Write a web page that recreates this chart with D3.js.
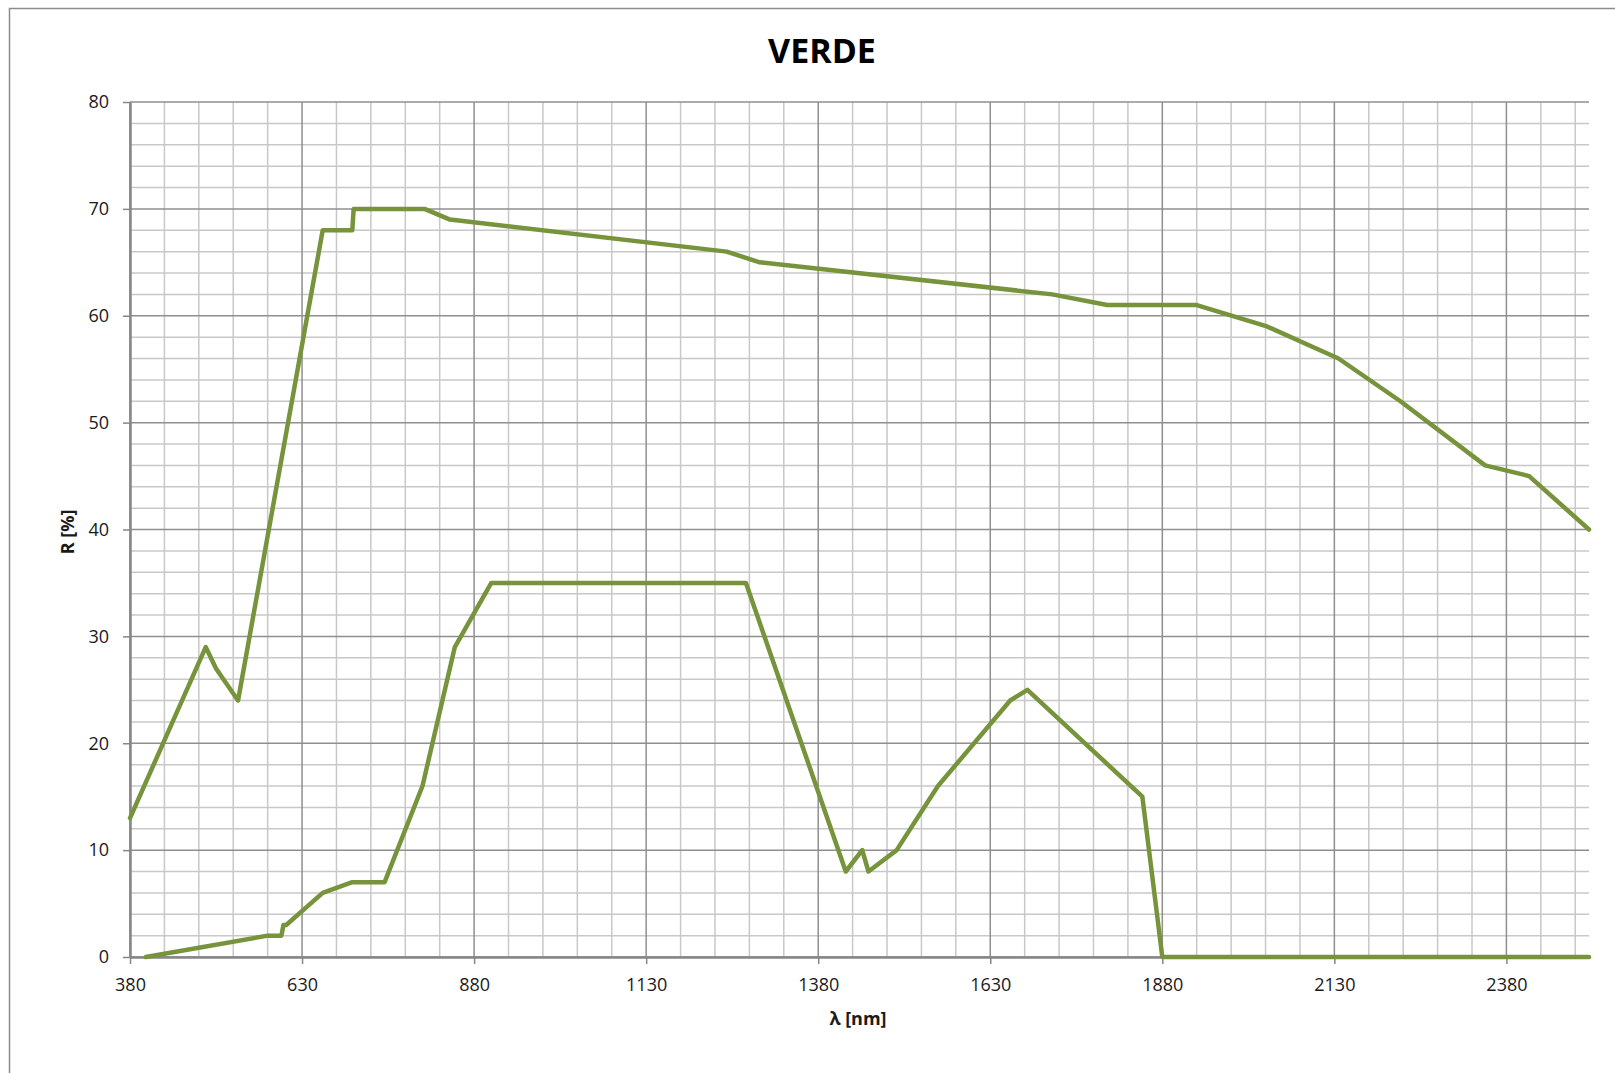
<!DOCTYPE html>
<html>
<head>
<meta charset="utf-8">
<script src="https://cdn.jsdelivr.net/npm/d3@7"></script>
<style>
  body { margin: 0; background: #fff; }
  svg { display: block; font-family: "Open Sans", sans-serif; }
</style>
</head>
<body>
<svg class="chart"></svg>
<script>
"use strict";
// upper curve
var upperNm = [380, 490, 505, 537, 660, 703, 705, 808, 845, 1247, 1295, 1720, 1800, 1930, 2032, 2136, 2226, 2349, 2413, 2500];
var upperR  = [13, 29, 27, 24, 68, 68, 70, 70, 69, 66, 65, 62, 61, 61, 59, 56, 52, 46, 45, 40];
// lower curve
var lowerNm = [403, 580, 600, 603, 607, 660, 703, 750, 805, 852, 905, 1275, 1420, 1444, 1453, 1494, 1554, 1659, 1684, 1851, 1880, 2500];
var lowerR  = [0, 2, 2, 3, 3, 6, 7, 7, 16, 29, 35, 35, 8, 10, 8, 10, 16, 24, 25, 15, 0, 0];
// tick labels
var xTicks = [380, 630, 880, 1130, 1380, 1630, 1880, 2130, 2380];
var yTicks = [0, 10, 20, 30, 40, 50, 60, 70, 80];
var titleText = "VERDE";
var xTitle = "\u03bb [nm]";
var yTitle = "R [%]";

var width = 1615, height = 1073;
var plotLeft = 130, plotRight = 1589, plotTop = 102, plotBottom = 957;
var lineColor = "#77933c";

var svg = d3.select(".chart")
	.attr("width", width)
	.attr("height", height);

// outer chart border (only left/top visible)
svg.append("rect")
	.attr("x", 9.5).attr("y", 8.5)
	.attr("width", width + 20).attr("height", height + 20)
	.attr("fill", "none")
	.attr("stroke", "#8c8c8c")
	.attr("stroke-width", 1.5);

var x = d3.scaleLinear().domain([380, 2500]).range([plotLeft, plotRight]);
var y = d3.scaleLinear().domain([0, 80]).range([plotBottom, plotTop]);

// minor gridlines
var minorX = d3.range(380, 2501, 50).filter(function(d){ return (d - 380) % 250 != 0; });
var minorY = d3.range(0, 81, 2).filter(function(d){ return d % 10 != 0; });
var grid = svg.append("g");
grid.selectAll("line.mx")
	.data(minorX)
	.enter().append("line")
	.attr("x1", function(d){ return x(d); }).attr("x2", function(d){ return x(d); })
	.attr("y1", plotTop).attr("y2", plotBottom)
	.attr("stroke", "#c8c8c8").attr("stroke-width", 1.5);
grid.selectAll("line.my")
	.data(minorY)
	.enter().append("line")
	.attr("y1", function(d){ return y(d); }).attr("y2", function(d){ return y(d); })
	.attr("x1", plotLeft).attr("x2", plotRight)
	.attr("stroke", "#c8c8c8").attr("stroke-width", 1.5);

// major gridlines
grid.selectAll("line.Mx")
	.data(xTicks)
	.enter().append("line")
	.attr("x1", function(d){ return x(d); }).attr("x2", function(d){ return x(d); })
	.attr("y1", plotTop).attr("y2", plotBottom)
	.attr("stroke", "#8f8f8f").attr("stroke-width", 1.5);
grid.selectAll("line.My")
	.data(yTicks)
	.enter().append("line")
	.attr("y1", function(d){ return y(d); }).attr("y2", function(d){ return y(d); })
	.attr("x1", plotLeft).attr("x2", plotRight)
	.attr("stroke", "#8f8f8f").attr("stroke-width", 1.5);

// axes
var xAxis = d3.axisBottom(x).tickValues(xTicks).tickFormat(d3.format("d"))
	.tickSize(7).tickSizeOuter(0).tickPadding(14);
var yAxis = d3.axisLeft(y).tickValues(yTicks).tickFormat(d3.format("d"))
	.tickSize(7).tickSizeOuter(0).tickPadding(14);

var gx = svg.append("g")
	.attr("transform", "translate(0," + plotBottom + ")")
	.call(xAxis);
var gy = svg.append("g")
	.attr("transform", "translate(" + plotLeft + ",0)")
	.call(yAxis);

[gx, gy].forEach(function(g) {
	g.select(".domain").attr("stroke", "#868686").attr("stroke-width", 2.5);
	g.selectAll(".tick line").attr("stroke", "#868686").attr("stroke-width", 1.5);
	g.selectAll(".tick text")
		.attr("fill", "#1a1a1a")
		.style("font-family", "'Open Sans', sans-serif")
		.style("font-size", "18px");
});

// lines
var line = d3.line()
	.x(function(d){ return x(d[0]); })
	.y(function(d){ return y(d[1]); });

var series = [d3.zip(upperNm, upperR), d3.zip(lowerNm, lowerR)];
svg.selectAll("path.series")
	.data(series)
	.enter().append("path")
	.attr("class", "series")
	.attr("d", line)
	.attr("fill", "none")
	.attr("stroke", lineColor)
	.attr("stroke-width", 4.5)
	.attr("stroke-linejoin", "round")
	.attr("stroke-linecap", "round");

// titles
svg.append("text")
	.attr("x", 822).attr("y", 63)
	.attr("text-anchor", "middle")
	.style("font-size", "34px")
	.style("font-weight", "bold")
	.text(titleText);

svg.append("text")
	.attr("x", 858).attr("y", 1025)
	.attr("text-anchor", "middle")
	.style("font-size", "18px")
	.style("font-weight", "bold")
	.attr("fill", "#1a1a1a")
	.text(xTitle);

svg.append("text")
	.attr("transform", "translate(74,532) rotate(-90)")
	.attr("text-anchor", "middle")
	.style("font-size", "18px")
	.style("font-weight", "bold")
	.attr("fill", "#1a1a1a")
	.text(yTitle);
</script>
</body>
</html>
